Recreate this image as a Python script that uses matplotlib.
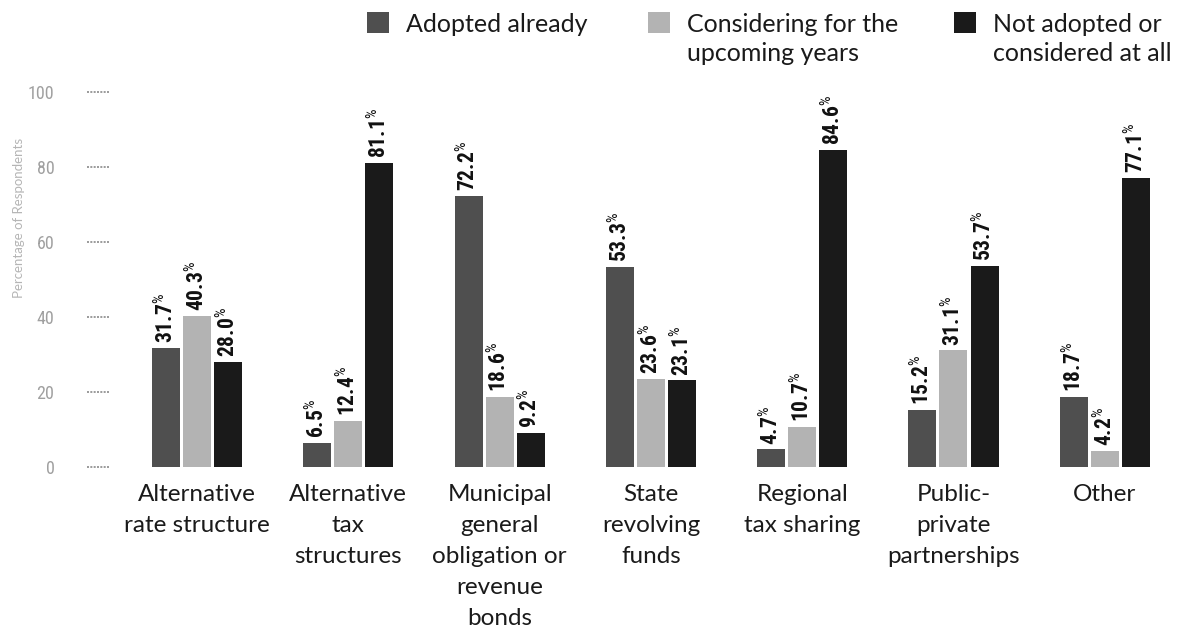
import matplotlib
matplotlib.use("Agg")
import matplotlib.pyplot as plt
from matplotlib import font_manager as fm
from matplotlib.patches import Rectangle
import numpy as np

# data
categories = [
    "Alternative\nrate structure",
    "Alternative\ntax\nstructures",
    "Municipal\ngeneral\nobligation or\nrevenue\nbonds",
    "State\nrevolving\nfunds",
    "Regional\ntax sharing",
    "Public-\nprivate\npartnerships",
    "Other",
]
series_names = [
    "Adopted already",
    "Considering for the\nupcoming years",
    "Not adopted or\nconsidered at all",
]
adopted = [31.7, 6.5, 72.2, 53.3, 4.7, 15.2, 18.7]
considering = [40.3, 12.4, 18.6, 23.6, 10.7, 31.1, 4.2]
not_adopted = [28.0, 81.1, 9.2, 23.1, 84.6, 53.7, 77.1]
y_ticks = [0, 20, 40, 60, 80, 100]

colors = ["#4f4f4f", "#b3b3b3", "#1a1a1a"]

avail = {f.name for f in fm.fontManager.ttflist}
narrow = "DejaVu Sans"
for cand in ["Roboto Condensed", "Liberation Sans Narrow", "Roboto"]:
    if cand in avail:
        narrow = cand
        break
label_font = "Lato" if "Lato" in avail else "DejaVu Sans"

plt.rcParams["mathtext.fontset"] = "custom"
plt.rcParams["mathtext.rm"] = narrow
plt.rcParams["mathtext.it"] = narrow
plt.rcParams["mathtext.bf"] = narrow + ":bold"

W, H = 1180, 630
fig = plt.figure(figsize=(W / 100, H / 100), dpi=100)
# axes: x from 110px to 1170px, y=0 at 467px, y=100 at 92px
ax = fig.add_axes([110 / W, (H - 467) / H, 1060 / W, 375 / H])

x = np.arange(len(categories))
offset = 0.205
width = 0.185
series = [adopted, considering, not_adopted]

for i, vals in enumerate(series):
    bars = ax.bar(x + (i - 1) * offset, vals, width, color=colors[i], linewidth=0)
    for rect, v in zip(bars, vals):
        ax.annotate(f"{v:.1f}" + r"$^{\%}$",
                    xy=(rect.get_x() + rect.get_width() / 2, v),
                    xytext=(0, 3.5), textcoords="offset points",
                    rotation=90, ha="center", va="bottom",
                    fontsize=15.5, fontfamily=narrow, fontweight="bold",
                    color="#111111")

ax.set_xlim(-0.575, 6.431)
ax.set_ylim(0, 100)
for s in ax.spines.values():
    s.set_visible(False)

ax.set_xticks(x)
ax.set_xticklabels(categories, fontsize=17.5, fontfamily=label_font,
                   linespacing=1.58, color="#1a1a1a")
ax.tick_params(axis="x", length=0, pad=12.5)

ax.set_yticks(y_ticks)
ax.set_yticklabels([str(v) for v in y_ticks], fontsize=13, fontfamily=narrow,
                   color="#a0a0a0")
ax.tick_params(axis="y", length=0, pad=40)
ax.hlines(y_ticks, -23 / 1060, 0, transform=ax.get_yaxis_transform(),
          clip_on=False, colors="#8a8a8a", linewidth=1.2, linestyles=(0, (1.2, 0.8)))

fig.text(19 / W, 1 - 218 / H, "Percentage of Respondents", rotation=90,
         ha="center", va="center", fontsize=9.5, fontfamily=label_font,
         color="#b5b5b5")

# legend drawn by hand to match the original spacing
leg_x = [367, 648, 954]
for name, c, lx in zip(series_names, colors, leg_x):
    fig.patches.append(Rectangle((lx / W, 1 - 33 / H), 22 / W, 21 / H,
                                 transform=fig.transFigure, color=c, linewidth=0))
    fig.text((lx + 39) / W, 1 - 13 / H, name, ha="left", va="top",
             fontsize=18, fontfamily=label_font, linespacing=1.3,
             color="#1a1a1a")

fig.savefig("out.png", dpi=100, facecolor="white")
